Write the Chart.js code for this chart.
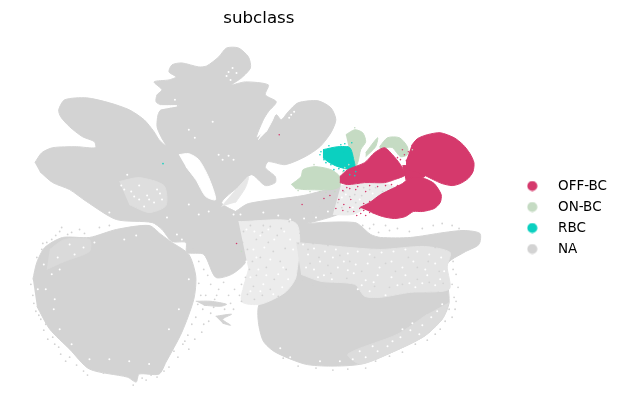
<!DOCTYPE html>
<html lang="en">
<head>
    <meta charset="UTF-8">
    <title>subclass</title>
    <script src="https://cdn.jsdelivr.net/npm/chart.js"></script>
    <style>
        body { margin: 0; background: #fff; }
        canvas { display: block; }
    </style>
</head>
<body>
    <canvas id="umap" width="623" height="411"></canvas>
    <script>
        // embedding, one outline per cluster
        const classes = ['OFF-BC', 'ON-BC', 'RBC', 'NA'];
        const classColors = ['#d5396c', '#c5dbc3', '#0bd0c0', '#d3d3d3'];

        const naUpper = [[35,163],[42,153],[53,148],[77,147],[96,148],[95,142],[83,137],[70,127],[61,117],[59,110],[65,100],[87,98],[110,103],[130,110],[145,120],[155,132],[160,140],[167,146],[162,137],[158,127],[159,115],[162,110],[180,106],[162,105],[157,102],[158,95],[163,90],[155,82],[170,80],[177,77],[170,72],[173,65],[183,63],[200,67],[208,66],[220,57],[228,48],[240,48],[250,57],[252,68],[243,78],[233,85],[247,82],[270,85],[267,95],[278,102],[270,112],[265,120],[258,138],[268,130],[278,115],[283,120],[290,112],[300,103],[320,101],[333,108],[338,120],[333,133],[322,147],[307,157],[287,165],[270,162],[267,168],[277,177],[277,183],[267,186],[253,175],[240,187],[223,203],[237,212],[253,220],[247,232],[253,240],[247,263],[233,275],[217,278],[205,255],[188,253],[187,243],[173,242],[163,230],[153,223],[117,220],[87,202],[70,190],[53,183],[40,172]];
        const naBand = [[237,212],[250,204],[305,196],[342,187],[352,188],[352,205],[340,215],[300,225],[240,222]];
        const naLowerLeft = [[33,280],[37,263],[45,248],[63,238],[90,238],[117,230],[150,226],[162,235],[173,243],[190,255],[197,277],[195,300],[183,333],[167,363],[160,375],[140,375],[137,383],[128,378],[90,370],[70,350],[50,330],[37,307]];
        const naLowerRight = [[290,225],[357,223],[373,235],[383,238],[413,238],[447,233],[467,231],[483,234],[482,245],[467,253],[450,265],[452,303],[445,320],[427,337],[397,352],[363,365],[333,367],[307,365],[277,353],[265,342],[260,323],[261,305],[283,293],[297,273],[290,247]];
        const naStreakA = [[197,302],[212,302],[228,305],[222,307],[205,306]];
        const naStreakB = [[217,317],[233,315],[224,320],[232,326],[224,324]];

        const gapStreak = [[180,155],[190,154],[200,160],[210,178],[217,200],[207,197],[197,180],[187,167]];
        const gapSlit = [[260,140],[268,125],[273,113],[276,116],[268,132]];
        const gapSlitLeft = [[162,109],[178,106],[162,106]];
        const mottleA = [[223,207],[236,192],[250,177],[247,188],[237,203]];
        const mottleB = [[120,182],[140,178],[165,186],[167,206],[150,213],[130,205]];
        const mottleC = [[298,243],[340,247],[383,250],[427,247],[453,253],[450,267],[452,290],[413,293],[383,298],[367,297],[357,285],[323,282],[303,275]];
        const mottleD = [[452,303],[445,320],[427,337],[397,352],[363,365],[350,355],[400,335],[430,315]];
        const mottleE = [[240,222],[298,224],[298,277],[287,293],[262,305],[243,302],[250,270]];
        const mottleF = [[343,186],[367,184],[387,184],[400,190],[383,196],[370,207],[355,215],[335,215]];
        const mottleG = [[50,250],[65,240],[90,240],[90,252],[65,262],[47,270]];

        const offRight = [[414,146],[420,139],[430,135],[443,133],[457,138],[466,145],[473,154],[477,163],[476,172],[471,179],[463,184],[455,186],[445,184],[436,180],[428,176],[418,172],[410,170],[409,160]];
        const offMiddle = [[342,177],[350,170],[367,163],[377,153],[387,148],[395,155],[403,165],[408,175],[397,180],[387,183],[367,183],[350,185],[342,183]];
        const offLower = [[362,208],[372,203],[383,195],[395,189],[405,184],[413,178],[427,179],[437,184],[444,195],[443,203],[437,209],[425,212],[416,212],[408,217],[397,219],[385,217],[374,213]];
        const offBridge = [[405,166],[420,166],[428,176],[420,180],[408,180]];
        const onStem = [[348,135],[357,130],[365,133],[368,142],[363,150],[360,163],[355,172],[353,157]];
        const onStreak = [[368,153],[380,138],[378,147],[368,157]];
        const onArc = [[382,147],[390,138],[402,138],[410,147],[410,155],[403,157],[395,148],[388,148],[382,153]];
        const onBlob = [[293,185],[303,177],[305,170],[317,167],[333,170],[342,177],[342,187],[333,190],[307,190],[297,189]];
        const rbcBlob = [[325,150],[340,147],[352,148],[356,160],[357,170],[340,167],[330,162],[325,158]];

        const offDots = [[281,135],[304,205],[238,244],[326,199],[332,196],[338,209],[345,211],[352,208],[356,212],[346,205],[362,209],[341,200],[353,200],[368,192],[358,190],[372,202],[363,214],[366,204],[400,158],[405,150],[409,161],[414,178],[424,175],[437,179],[400,186],[349,188],[345,191],[377,211],[372,213],[403,160],[407,155],[411,152],[399,163],[402,170],[352,189],[360,187],[372,186],[380,187],[388,186],[394,185],[366,211],[359,216],[368,216]];
        const onDots = [[243,252],[316,165],[345,172],[337,192],[322,192],[357,128],[415,150],[300,191],[312,192],[328,193],[347,168],[351,165]];
        const rbcDots = [[164,164],[322,155],[326,160],[333,165],[354,143],[350,147],[346,152],[358,172],[331,146],[336,170],[343,145],[347,144],[341,169],[346,171],[323,152],[328,163],[352,175],[357,176]];
        const naDots = [[40,258],[36,270],[31,285],[33,296],[36,312],[41,320],[44,331],[48,340],[55,345],[61,355],[66,362],[77,366],[84,372],[98,372],[110,369],[122,371],[134,386],[143,379],[152,376],[165,372],[175,352],[184,345],[189,336],[193,325],[197,318],[204,310],[207,296],[212,285],[200,262],[205,270],[209,276],[220,290],[225,283],[230,296],[236,290],[243,285],[247,278],[251,270],[216,300],[210,322],[203,333],[196,340],[190,350],[215,308],[60,232],[72,233],[80,230],[56,236],[47,243],[42,250],[100,228],[110,226],[62,228],[239,225],[245,232],[252,226],[258,240],[264,233],[270,243],[275,252],[262,258],[268,268],[276,280],[255,287],[249,295],[243,302],[232,304],[256,300],[282,262],[287,249],[279,236],[288,270],[392,231],[400,229],[412,232],[425,229],[436,226],[445,224],[455,226],[462,229],[456,270],[455,285],[457,298],[452,310],[448,322],[438,335],[346,192],[352,197],[358,203],[364,196],[372,190],[378,188],[385,192],[344,208],[350,212],[357,195],[366,188],[340,203],[335,210],[315,213],[322,208],[305,212],[295,215],[302,234],[310,250],[321,258],[330,266],[342,256],[352,262],[364,272],[377,258],[388,264],[398,272],[411,258],[420,268],[431,262],[442,272],[446,284],[432,283],[420,280],[405,285],[392,288],[377,287],[312,264],[333,274],[349,279],[37,258],[43,244],[52,240],[68,235],[85,234],[34,304],[39,316],[46,325],[53,338],[59,348],[70,358],[88,376],[104,374],[116,373],[126,375],[147,381],[158,378],[170,368],[179,358],[186,342],[199,305],[202,296],[200,284],[199,252],[194,250],[213,270],[218,296],[226,310],[212,314],[205,325],[235,310],[241,296],[372,229],[381,233],[365,226],[376,225],[388,226],[458,310],[455,318],[443,330],[430,341],[418,345],[405,353],[392,357],[378,362],[368,369],[350,370],[335,371],[318,369],[300,367],[285,359],[456,262],[459,275],[461,288],[459,302],[265,226],[272,227],[283,229],[291,222],[244,243],[249,250],[254,262],[258,276],[264,296],[272,290],[280,297],[300,244],[315,244],[330,246],[346,245],[361,247],[374,248],[396,246],[410,245],[424,244],[438,248],[304,281],[315,285],[328,287],[343,289],[358,298],[371,302],[386,301],[400,297],[414,296],[428,294],[441,293],[450,296]];
        const gapDots = [[262,236],[270,230],[255,250],[248,262],[260,270],[272,260],[280,275],[265,285],[252,278],[243,290],[275,295],[284,288],[295,250],[305,245],[316,249],[327,252],[338,250],[350,254],[360,252],[372,255],[384,253],[396,252],[408,250],[420,252],[432,255],[444,258],[316,270],[326,276],[340,268],[356,274],[368,281],[380,276],[394,278],[408,276],[418,288],[430,276],[443,280],[360,290],[372,292],[388,296],[405,330],[415,324],[425,326],[434,318],[395,342],[380,352],[368,358],[355,360],[342,362],[322,362],[292,358],[282,349],[176,100],[230,72],[234,68],[228,76],[238,73],[232,80],[293,115],[296,112],[291,118],[224,160],[230,156],[235,160],[220,155],[214,122],[190,130],[196,138],[125,190],[135,197],[148,196],[158,190],[140,186],[128,175],[155,203],[145,207],[163,200],[110,213],[190,205],[200,215],[210,212],[235,215],[70,245],[58,258],[84,248],[95,243],[125,240],[137,236],[168,218],[178,235],[183,240],[90,360],[110,360],[130,362],[150,365],[170,330],[180,310],[190,280],[54,310],[46,290],[60,330],[72,345],[430,150],[440,160],[455,170],[465,168],[450,145],[438,172],[420,160],[417,168],[360,175],[375,170],[385,178],[395,170],[400,198],[415,195],[430,200],[395,208],[310,255],[322,262],[335,258],[346,262],[358,265],[370,264],[382,268],[394,262],[405,268],[416,262],[428,270],[438,264],[447,272],[308,268],[320,278],[334,280],[350,271],[364,286],[376,283],[400,286],[412,284],[425,284],[438,286],[248,230],[256,232],[266,248],[276,240],[286,232],[292,240],[252,292],[262,292],[258,258],[268,276],[285,268],[290,280],[413,331],[403,338],[422,335],[390,347],[375,347],[362,352],[445,305],[440,312],[348,195],[355,208],[362,200],[375,194],[344,198],[330,212],[318,218],[306,219],[292,220],[280,216],[265,213],[242,215],[52,275],[60,270],[75,255],[44,265],[150,200],[140,200],[132,192],[161,194],[122,186],[55,300],[38,290]];

        function toXY(pairs) {
            return pairs.map(p => ({ x: p[0], y: p[1] }));
        }

        function dots(label, pairs, color, order, radius) {
            return {
                label: label,
                data: toXY(pairs),
                backgroundColor: color,
                pointRadius: radius,
                pointHoverRadius: radius,
                pointBorderWidth: 0,
                showLine: false,
                order: order
            };
        }

        function outline(pairs, color, order) {
            return {
                label: '',
                data: toXY(pairs),
                showLine: true,
                fill: 'shape',
                tension: 0.25,
                backgroundColor: color,
                borderColor: color,
                borderWidth: 1,
                pointRadius: 0,
                order: order
            };
        }

        function legendDot(color) {
            const c = document.createElement('canvas');
            c.width = 11;
            c.height = 11;
            const g = c.getContext('2d');
            g.fillStyle = color;
            g.beginPath();
            g.arc(5.5, 5.5, 5, 0, Math.PI * 2);
            g.fill();
            return c;
        }

        const legendDots = classColors.map(legendDot);

        // the legend has to sit lower than chart.js would centre it
        const moveLegend = {
            id: 'moveLegend',
            afterLayout(chart) {
                chart.legend.top += 12;
                chart.legend.bottom += 12;
            }
        };

        new Chart(document.getElementById('umap').getContext('2d'), {
            type: 'scatter',
            data: {
                datasets: [
                    dots(classes[0], offDots, classColors[0], 1, 0.8),
                    dots(classes[1], onDots, classColors[1], 2, 0.8),
                    dots(classes[2], rbcDots, classColors[2], 1, 0.8),
                    dots(classes[3], naDots, classColors[3], 6, 0.9),
                    dots('', gapDots, '#ffffff', 7, 1),
                    outline(offRight, classColors[0], 3),
                    outline(offMiddle, classColors[0], 3),
                    outline(offLower, classColors[0], 3),
                    outline(offBridge, classColors[0], 3),
                    outline(rbcBlob, classColors[2], 4),
                    outline(onStem, classColors[1], 5),
                    outline(onStreak, classColors[1], 5),
                    outline(onArc, classColors[1], 5),
                    outline(onBlob, classColors[1], 5),
                    outline(gapStreak, '#ffffff', 8),
                    outline(gapSlit, '#ffffff', 8),
                    outline(gapSlitLeft, '#ffffff', 8),
                    outline(mottleA, '#e7e7e7', 8),
                    outline(mottleB, '#dedede', 8),
                    outline(mottleC, '#e4e4e4', 8),
                    outline(mottleD, '#dcdcdc', 8),
                    outline(mottleE, '#ececec', 8),
                    outline(mottleF, '#ececec', 8),
                    outline(mottleG, '#dadada', 8),
                    outline(naUpper, classColors[3], 9),
                    outline(naBand, classColors[3], 9),
                    outline(naLowerLeft, classColors[3], 9),
                    outline(naLowerRight, classColors[3], 9),
                    outline(naStreakA, classColors[3], 9),
                    outline(naStreakB, classColors[3], 9)
                ]
            },
            options: {
                responsive: false,
                animation: false,
                devicePixelRatio: 1,
                layout: { padding: { left: 12, right: 6 } },
                scales: {
                    x: { display: false, min: 12, max: 509 },
                    y: { display: false, min: 34, max: 411, reverse: true }
                },
                plugins: {
                    title: {
                        display: true,
                        text: 'subclass',
                        fullSize: false,
                        color: '#000',
                        font: { family: 'DejaVu Sans', size: 16.67, weight: 'normal' },
                        padding: { top: 9, bottom: 5 }
                    },
                    legend: {
                        position: 'right',
                        labels: {
                            color: '#000',
                            font: { family: 'DejaVu Sans', size: 13.5 },
                            usePointStyle: true,
                            pointStyleWidth: 38,
                            boxHeight: 7,
                            padding: 7.5,
                            filter: item => item.text !== '',
                            generateLabels(chart) {
                                return classes.map((name, i) => ({
                                    text: name,
                                    datasetIndex: i,
                                    fontColor: '#000',
                                    fillStyle: classColors[i],
                                    strokeStyle: classColors[i],
                                    lineWidth: 0,
                                    pointStyle: legendDots[i]
                                }));
                            }
                        }
                    },
                    tooltip: { enabled: false }
                }
            },
            plugins: [moveLegend]
        });
    </script>
</body>
</html>
